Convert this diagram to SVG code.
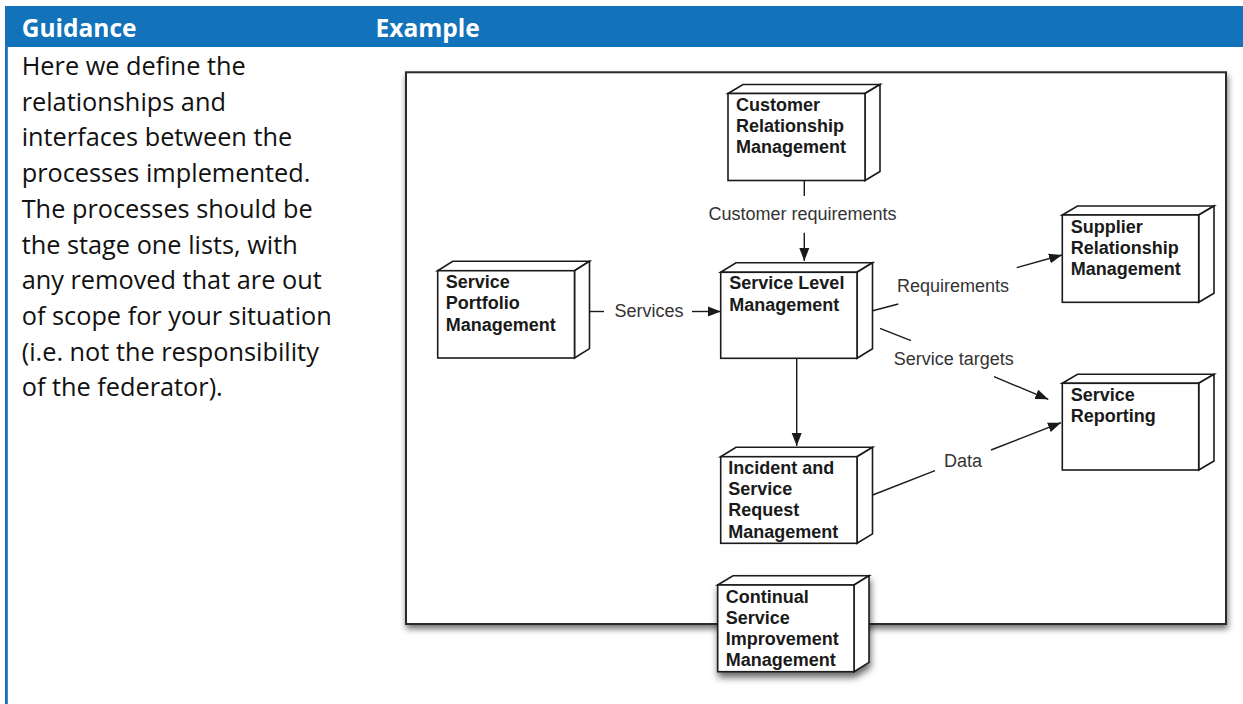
<svg xmlns="http://www.w3.org/2000/svg" width="1243" height="704" viewBox="0 0 1243 704">
<style>
.hdr{font-family:"Open Sans","Noto Sans",sans-serif;font-weight:bold;font-size:24.5px;fill:#fff}
.body{font-family:"Open Sans","Noto Sans",sans-serif;font-size:25.3px;fill:#111}
.face{fill:#fff;stroke:#1a1a1a;stroke-width:1.6;stroke-linejoin:miter}
.nt{font-family:"Liberation Sans",Arial,sans-serif;font-weight:bold;font-size:18px;fill:#1a1a1a}
.lbl{font-family:"Liberation Sans",Arial,sans-serif;font-size:18px;fill:#333;text-anchor:middle}
.ln{stroke:#1a1a1a;stroke-width:1.4;fill:none}
</style>
<defs>
<marker id="ah" markerUnits="userSpaceOnUse" markerWidth="14" markerHeight="11" refX="13" refY="5.5" orient="auto">
<path d="M0,0.5 L13,5.5 L0,10.5 Z" fill="#1a1a1a"/>
</marker>
<filter id="sh" x="-5%" y="-5%" width="110%" height="115%">
<feDropShadow dx="1" dy="4" stdDeviation="3" flood-color="#000" flood-opacity="0.55"/>
</filter>
<filter id="sh2" x="-20%" y="-20%" width="140%" height="150%">
<feDropShadow dx="1" dy="5" stdDeviation="3.5" flood-color="#000" flood-opacity="0.6"/>
</filter>
</defs>

<g id="header">
<rect x="5" y="6" width="1238" height="41" fill="#1272BA"/>
<text class="hdr" x="21.7" y="36.5">Guidance</text>
<text class="hdr" x="375.6" y="36.5">Example</text>
</g>
<rect id="leftborder" x="5" y="47" width="2.8" height="657" fill="#1272BA"/>

<g id="guidance-text">
<text class="body" x="21.7" y="75">Here we define the</text>
<text class="body" x="21.7" y="110.7">relationships and</text>
<text class="body" x="21.7" y="146.4">interfaces between the</text>
<text class="body" x="21.7" y="182.1">processes implemented.</text>
<text class="body" x="21.7" y="217.8">The processes should be</text>
<text class="body" x="21.7" y="253.5">the stage one lists, with</text>
<text class="body" x="21.7" y="289.2">any removed that are out</text>
<text class="body" x="21.7" y="324.9">of scope for your situation</text>
<text class="body" x="21.7" y="360.6">(i.e. not the responsibility</text>
<text class="body" x="21.7" y="396.3">of the federator).</text>
</g>

<g id="frame">
<rect x="406" y="72.3" width="820" height="551.7" fill="#fff" stroke="#2a2a2a" stroke-width="2" filter="url(#sh)"/>
</g>

<g id="connectors">
<line class="ln" x1="804.3" y1="180.5" x2="804.3" y2="196"/>
<line class="ln" x1="804.3" y1="232.7" x2="804.3" y2="261" marker-end="url(#ah)"/>
<text class="lbl" x="802.5" y="220">Customer requirements</text>

<line class="ln" x1="589.5" y1="311.5" x2="604" y2="311.5"/>
<line class="ln" x1="692" y1="311.5" x2="720.7" y2="311.5" marker-end="url(#ah)"/>
<text class="lbl" x="649" y="317">Services</text>

<line class="ln" x1="872.7" y1="310.7" x2="898.3" y2="304"/>
<line class="ln" x1="1016.7" y1="267.7" x2="1062" y2="255" marker-end="url(#ah)"/>
<text class="lbl" x="953" y="292.3">Requirements</text>

<line class="ln" x1="880" y1="328.3" x2="911" y2="340.7"/>
<line class="ln" x1="994" y1="376.7" x2="1048.3" y2="399.3" marker-end="url(#ah)"/>
<text class="lbl" x="953.7" y="365">Service targets</text>

<line class="ln" x1="796.7" y1="358.3" x2="796.7" y2="446" marker-end="url(#ah)"/>

<line class="ln" x1="872.7" y1="495" x2="935" y2="470.7"/>
<line class="ln" x1="991" y1="450" x2="1061" y2="422.7" marker-end="url(#ah)"/>
<text class="lbl" x="963" y="466.7">Data</text>
</g>

<g id="crm">
<path class="face" d="M728,93.5 L743,84.5 L880,84.5 L865,93.5 Z"/>
<path class="face" d="M865,93.5 L880,84.5 L880,171.5 L865,180.5 Z"/>
<rect class="face" x="728" y="93.5" width="137" height="87"/>
<text class="nt" x="736" y="110.7">Customer</text>
<text class="nt" x="736" y="132">Relationship</text>
<text class="nt" x="736" y="153.3">Management</text>
</g>

<g id="spm">
<path class="face" d="M437.7,270.7 L452.7,261.3 L589.5,261.3 L574.5,270.7 Z"/>
<path class="face" d="M574.5,270.7 L589.5,261.3 L589.5,348.6 L574.5,358 Z"/>
<rect class="face" x="437.7" y="270.7" width="136.8" height="87.3"/>
<text class="nt" x="445.7" y="287.7">Service</text>
<text class="nt" x="445.7" y="309">Portfolio</text>
<text class="nt" x="445.7" y="330.5">Management</text>
</g>

<g id="slm">
<path class="face" d="M720.7,272.3 L736,262.8 L872.5,262.8 L857,272.3 Z"/>
<path class="face" d="M857,272.3 L872.5,262.8 L872.5,348.8 L857,358.3 Z"/>
<rect class="face" x="720.7" y="272.3" width="136.3" height="86"/>
<text class="nt" x="729.3" y="289.3">Service Level</text>
<text class="nt" x="729.3" y="310.7">Management</text>
</g>

<g id="srm">
<path class="face" d="M1062.3,215 L1077.5,206 L1214,206 L1198.7,215 Z"/>
<path class="face" d="M1198.7,215 L1214,206 L1214,293.3 L1198.7,302.3 Z"/>
<rect class="face" x="1062.3" y="215" width="136.4" height="87.3"/>
<text class="nt" x="1070.7" y="233.3">Supplier</text>
<text class="nt" x="1070.7" y="254.3">Relationship</text>
<text class="nt" x="1070.7" y="275.3">Management</text>
</g>

<g id="sr">
<path class="face" d="M1062.3,383.3 L1077.5,374.3 L1214,374.3 L1198.7,383.3 Z"/>
<path class="face" d="M1198.7,383.3 L1214,374.3 L1214,461 L1198.7,470 Z"/>
<rect class="face" x="1062.3" y="383.3" width="136.4" height="86.7"/>
<text class="nt" x="1070.7" y="400.7">Service</text>
<text class="nt" x="1070.7" y="421.7">Reporting</text>
</g>

<g id="isrm">
<path class="face" d="M720.7,456.7 L736,447.3 L872.5,447.3 L857,456.7 Z"/>
<path class="face" d="M857,456.7 L872.5,447.3 L872.5,533.9 L857,543.3 Z"/>
<rect class="face" x="720.7" y="456.7" width="136.3" height="86.6"/>
<text class="nt" x="728.3" y="474">Incident and</text>
<text class="nt" x="728.3" y="495.2">Service</text>
<text class="nt" x="728.3" y="516.4">Request</text>
<text class="nt" x="728.3" y="537.6">Management</text>
</g>

<g id="csim">
<g filter="url(#sh2)">
<path class="face" d="M717.7,585 L733,575.7 L869,575.7 L854,585 Z"/>
<path class="face" d="M854,585 L869,575.7 L869,662.4 L854,671.7 Z"/>
<rect class="face" x="717.7" y="585" width="136.3" height="86.7"/>
</g>
<text class="nt" x="725.7" y="602.7">Continual</text>
<text class="nt" x="725.7" y="624">Service</text>
<text class="nt" x="725.7" y="645.2">Improvement</text>
<text class="nt" x="725.7" y="666.4">Management</text>
</g>
</svg>
